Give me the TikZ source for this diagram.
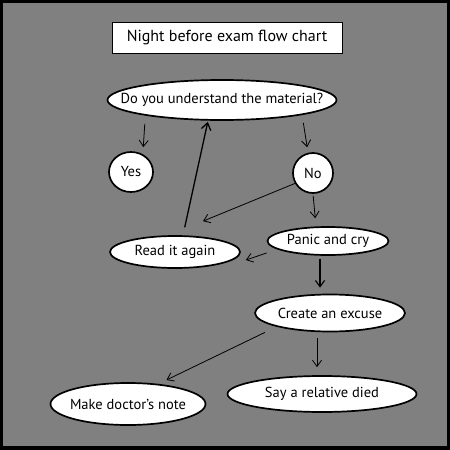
\documentclass[tikz,border=0pt]{standalone}
\usepackage{fontspec}
\setmainfont{PT Sans}
\usepackage{xcolor}
\usetikzlibrary{arrows.meta,positioning,shapes.geometric}

\definecolor{bggray}{RGB}{128,128,128}
% keep the ellipse from growing round its text
\newcommand{\bubtext}[1]{\makebox[0pt]{#1}}

\begin{document}
\begin{tikzpicture}[x=1pt, y=-1pt, font=\fontsize{14.5}{16}\selectfont]
\tikzset{
  bub/.style ={draw=black, fill=white, ellipse, line width=1.7pt,
               inner sep=0pt},
  ttl/.style ={draw=black, fill=white, line width=0.6pt, inner sep=0pt,
               minimum width=230pt, minimum height=31pt,
               font=\fontsize{16}{18}\selectfont},
  aT/.style={-{Straight Barb[length=2.2mm,width=3.2mm]},line width=0.8pt},
  aK/.style={-{Straight Barb[length=2.4mm,width=3.4mm]},line width=1.3pt}
}
% frame and background
\fill[black] (0,0) rectangle (450,450);
\fill[bggray] (3,3) rectangle (447,446);
\useasboundingbox (0,0) rectangle (450,450);

\node (title)[ttl] at (227,37.5) {Night before exam flow chart};
\node (q)[bub, minimum width=229pt, minimum height=40pt] at (222,100) {\bubtext{Do you understand the material?}};
\node (yes)[bub, minimum width=44pt, minimum height=40pt] at (131,172) {\bubtext{Yes}};
\node (no)[bub, minimum width=40pt, minimum height=40pt] at (313,173) {\bubtext{No}};
\node (read)[bub, minimum width=130pt, minimum height=32pt] at (175,252) {\bubtext{Read it again}};
\node (panic)[bub, minimum width=121pt, minimum height=28pt] at (328,241) {\bubtext{Panic and cry}};
\node (create)[bub, minimum width=150pt, minimum height=37pt] at (330,313) {\bubtext{Create an excuse}};
\node (note)[bub, minimum width=155pt, minimum height=42pt] at (128,404) {\bubtext{Make doctor’s note}};
\node (died)[bub, minimum width=189pt, minimum height=36pt] at (322,394) {\bubtext{Say a relative died}};

\draw[aT, shorten <=3pt, shorten >=4pt]([xshift=-77pt]q.south) -- ([xshift=12pt]yes.north);
\draw[aK, shorten <=8pt, shorten >=1pt]([xshift=8pt]read.north) -- ([xshift=-14pt]q.south);
\draw[aT, shorten <=2pt, shorten >=5pt]([xshift=81pt]q.south) -- ([xshift=-5pt]no.north);
\draw[aT](no.210) -- ([xshift=28pt,yshift=14pt]read.north);
\draw[aT, shorten <=2pt, shorten >=8pt](no.south) -- ([xshift=-12pt]panic.north);
\draw[aT]([yshift=-12pt]panic.west) -- ([xshift=5pt,yshift=-8pt]read.east);
\draw[aT, line width=1.1pt, shorten <=3pt, shorten >=6pt]([xshift=-8pt]panic.south) -- ([xshift=-10pt]create.north);
\draw[aT, shorten >=5pt]([xshift=-65pt]create.south) -- ([xshift=34pt]note.north);
\draw[aT, shorten <=6pt, shorten >=8pt]([xshift=-13pt]create.south) -- ([xshift=-5pt]died.north);
\end{tikzpicture}
\end{document}
